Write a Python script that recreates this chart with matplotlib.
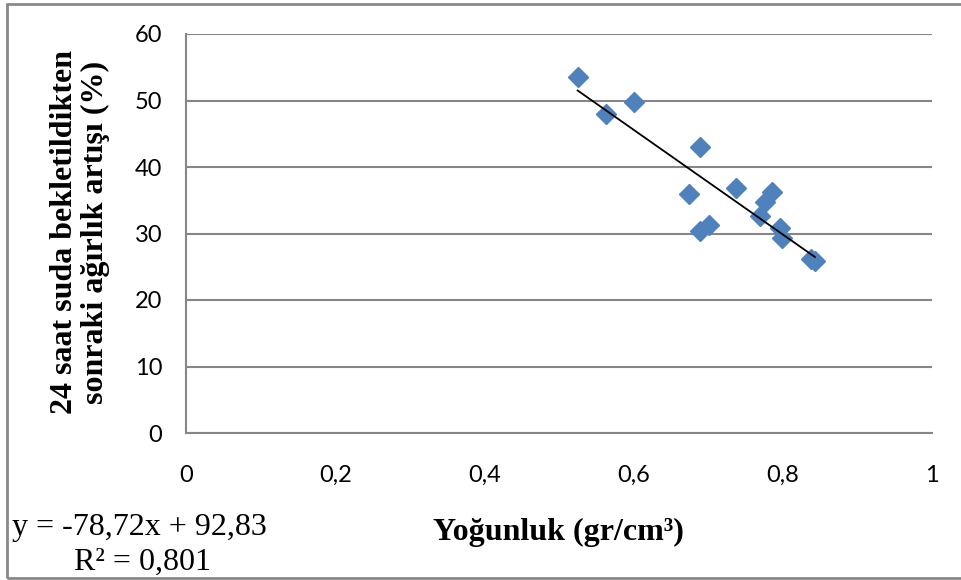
import numpy as np
import matplotlib.pyplot as plt
from matplotlib.patches import Rectangle

# density (gr/cm3) and weight gain after 24h in water (%)
density = [0.525, 0.563, 0.600, 0.689, 0.674, 0.737, 0.689, 0.701,
           0.786, 0.776, 0.769, 0.796, 0.799, 0.838, 0.843]
gain = [53.6, 48.0, 49.7, 43.0, 35.9, 36.8, 30.4, 31.3,
        36.3, 34.7, 32.7, 30.8, 29.3, 26.2, 25.9]

slope = -78.72
intercept = 92.83
eq_text = "y = -78,72x + 92,83"
r2_text = "R² = 0,801"

xticks = [0, 0.2, 0.4, 0.6, 0.8, 1]
xticklabels = ['0', '0,2', '0,4', '0,6', '0,8', '1']
yticks = [0, 10, 20, 30, 40, 50, 60]

W, H = 961, 580
fig = plt.figure(figsize=(W / 100, H / 100), dpi=100)
ax = fig.add_axes([186 / W, 1 - 433 / H, (932 - 186) / W, (433 - 34) / H])

ax.plot(density, gain, linestyle='none', marker='D', markersize=10,
        color='#4F81BD', markeredgecolor='#4F81BD', zorder=3)

xs = np.array([min(density), max(density)])
ax.plot(xs, slope * xs + intercept, color='black', linewidth=1.3, zorder=4)

ax.set_xlim(0, 1)
ax.set_ylim(0, 60)
ax.set_xticks(xticks)
ax.set_xticklabels(xticklabels)
ax.set_yticks(yticks)
ax.grid(axis='y', color='#868686', linewidth=1.5)
ax.set_axisbelow(True)
for s in ['top', 'right']:
    ax.spines[s].set_visible(False)
for s in ['left', 'bottom']:
    ax.spines[s].set_color('#868686')
    ax.spines[s].set_linewidth(1.5)
ax.tick_params(length=0, labelsize=17, colors='black')
ax.tick_params(axis='x', pad=23)
ax.tick_params(axis='y', pad=17)
for lbl in ax.get_xticklabels() + ax.get_yticklabels():
    lbl.set_family('Lato')

serif = 'Liberation Serif'
fig.text(80 / W, 1 - 232 / H, "24 saat suda bekletildikten\nsonraki ağırlık artışı (%)",
         rotation=90, ha='center', va='center', family=serif,
         fontweight='bold', fontsize=23, linespacing=1.12)
fig.text(558 / W, 1 - 540 / H, "Yoğunluk (gr/cm³)", ha='center', va='baseline',
         family=serif, fontweight='bold', fontsize=23)
fig.text(12 / W, 1 - 535 / H, eq_text, ha='left', va='baseline',
         family=serif, fontsize=23)
fig.text(142 / W, 1 - 570 / H, r2_text, ha='center', va='baseline',
         family=serif, fontsize=23)

fig.patches.append(Rectangle((7 / W, 2 / H), (990 - 7) / W, (576 - 2) / H,
                             transform=fig.transFigure, fill=False,
                             edgecolor='#898989', linewidth=2))

fig.savefig('out.png', dpi=100)
